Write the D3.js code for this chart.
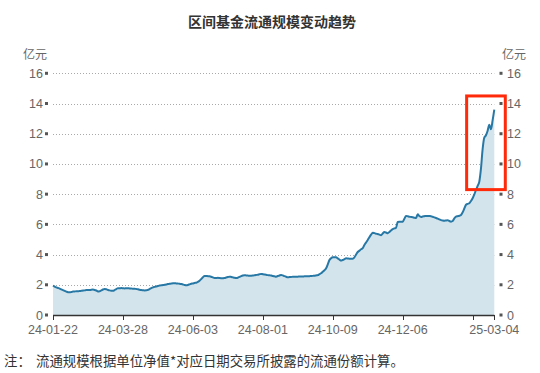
<!DOCTYPE html>
<html>
<head>
<meta charset="utf-8">
<script src="https://cdn.jsdelivr.net/npm/d3@7"></script>
<style>
  body { margin: 0; background: #fff; }
  svg { display: block; font-family: "Liberation Sans", Arial, "Noto Sans CJK SC", sans-serif; }
</style>
</head>
<body>
<svg width="540" height="373"></svg>
<script>
// 流通规模 (亿元), one value per trading day from 24-01-22 to 25-03-04
const scale = [
  1.94, 1.88, 1.83, 1.79, 1.75, 1.70, 1.65, 1.60, 1.55, 1.51,
  1.50, 1.52, 1.55, 1.56, 1.57, 1.57, 1.59, 1.60, 1.62, 1.63,
  1.65, 1.66, 1.65, 1.67, 1.68, 1.66, 1.62, 1.56, 1.57, 1.63,
  1.69, 1.72, 1.70, 1.66, 1.63, 1.61, 1.60, 1.65, 1.72, 1.77,
  1.77, 1.78, 1.77, 1.76, 1.77, 1.77, 1.76, 1.75, 1.74, 1.74,
  1.72, 1.70, 1.67, 1.65, 1.64, 1.63, 1.64, 1.66, 1.72, 1.78,
  1.83, 1.86, 1.89, 1.92, 1.95, 1.97, 1.98, 2.00, 2.02, 2.05,
  2.07, 2.08, 2.10, 2.10, 2.09, 2.08, 2.07, 2.05, 2.02, 1.99,
  1.97, 1.99, 2.03, 2.07, 2.09, 2.12, 2.14, 2.19, 2.27, 2.38,
  2.50, 2.58, 2.58, 2.57, 2.56, 2.53, 2.49, 2.45, 2.45, 2.46,
  2.45, 2.44, 2.43, 2.45, 2.48, 2.51, 2.54, 2.52, 2.49, 2.46,
  2.45, 2.47, 2.52, 2.57, 2.61, 2.63, 2.62, 2.61, 2.60, 2.60,
  2.61, 2.63, 2.65, 2.67, 2.70, 2.72, 2.70, 2.68, 2.66, 2.64,
  2.63, 2.61, 2.58, 2.56, 2.54, 2.58, 2.62, 2.65, 2.62, 2.57,
  2.53, 2.50, 2.51, 2.52, 2.53, 2.53, 2.54, 2.54, 2.55, 2.55,
  2.55, 2.56, 2.56, 2.56, 2.57, 2.58, 2.59, 2.60, 2.62, 2.64,
  2.70, 2.76, 2.86, 2.96, 3.09, 3.35, 3.64, 3.76, 3.82, 3.83,
  3.82, 3.75, 3.67, 3.60, 3.64, 3.70, 3.75, 3.74, 3.73, 3.73,
  3.73, 3.82, 4.00, 4.17, 4.26, 4.35, 4.42, 4.64, 4.80, 4.97,
  5.15, 5.32, 5.45, 5.42, 5.38, 5.36, 5.32, 5.28, 5.40, 5.50,
  5.46, 5.41, 5.50, 5.60, 5.68, 5.73, 5.78, 6.16, 6.18, 6.17,
  6.18, 6.37, 6.56, 6.54, 6.51, 6.49, 6.47, 6.44, 6.42, 6.67,
  6.55, 6.49, 6.52, 6.54, 6.56, 6.56, 6.55, 6.54, 6.50, 6.46,
  6.42, 6.38, 6.33, 6.28, 6.25, 6.24, 6.26, 6.27, 6.22, 6.18,
  6.22, 6.40, 6.51, 6.54, 6.57, 6.62, 6.80, 7.05, 7.30, 7.36,
  7.40, 7.55, 7.73, 7.98, 8.28, 8.55, 8.83, 9.70, 11.00, 11.74,
  11.90, 12.20, 12.60, 12.30, 12.90, 13.60
];

// x axis: tick positions (trading-day index) and their labels ('' = tick only)
const tickIndex = [0, 42, 84, 126, 168, 210, 252, 265];
const tickLabels = ['24-01-22', '24-03-28', '24-06-03', '24-08-01', '24-10-09', '24-12-06', '', '25-03-04'];
const yTicks = [0, 2, 4, 6, 8, 10, 12, 14, 16];

// highlighted zone (index range / value range)
const boxIndex = [249, 265];
const boxValue = [8.3, 14.5];

const svg = d3.select('svg');
const plotLeft = 53, plotRight = 494.3, plotTop = 73.3, plotBottom = 315;

const x = d3.scaleLinear().domain([0, scale.length - 1]).range([plotLeft, plotRight]);
const y = d3.scaleLinear().domain([0, 16]).range([plotBottom, plotTop]);

// title
svg.append('text')
  .attr('x', 272).attr('y', 27)
  .attr('text-anchor', 'middle')
  .attr('font-size', 14).attr('font-weight', 'bold')
  .attr('fill', '#333')
  .attr('font-family', '"Noto Sans CJK SC", sans-serif')
  .text('区间基金流通规模变动趋势');

// unit labels
svg.append('text').attr('x', 23).attr('y', 59).attr('font-size', 12).attr('fill', '#666')
  .attr('font-family', '"Noto Sans CJK SC", sans-serif').text('亿元');
svg.append('text').attr('x', 526).attr('y', 59).attr('font-size', 12).attr('fill', '#666')
  .attr('text-anchor', 'end')
  .attr('font-family', '"Noto Sans CJK SC", sans-serif').text('亿元');

// grid lines
svg.append('g').selectAll('line')
  .data(yTicks.filter(d => d > 0))
  .join('line')
  .attr('x1', plotLeft).attr('x2', plotRight)
  .attr('y1', d => Math.round(y(d)) + 0.5).attr('y2', d => Math.round(y(d)) + 0.5)
  .attr('stroke', '#aaa').attr('stroke-width', 1)
  .attr('stroke-dasharray', '1,2');

// y axes, both sides: small square marks + labels
function yAxis(markX, labelX, anchor) {
  let g = svg.append('g');
  g.selectAll('rect').data(yTicks).join('rect')
    .attr('x', markX - 1.5).attr('y', d => y(d) - 1.5)
    .attr('width', 3).attr('height', 3)
    .attr('fill', '#555');
  g.selectAll('text').data(yTicks).join('text')
    .attr('x', labelX).attr('y', d => y(d) + 4.5)
    .attr('text-anchor', anchor)
    .attr('font-size', 12.5).attr('fill', '#666')
    .text(d => d);
}
yAxis(46.5, 43, 'end');
yAxis(501, 507, 'start');

// area + line
const area = d3.area()
  .x((d, i) => x(i)).y0(y(0)).y1(d => y(d))
  .curve(d3.curveMonotoneX);
const line = d3.line()
  .x((d, i) => x(i)).y(d => y(d))
  .curve(d3.curveMonotoneX);

svg.append('path').datum(scale)
  .attr('d', area)
  .attr('fill', '#d3e4ec');
svg.append('path').datum(scale)
  .attr('d', line)
  .attr('fill', 'none')
  .attr('stroke', '#2878a6')
  .attr('stroke-width', 2)
  .attr('stroke-linejoin', 'round');

// x axis
let xg = svg.append('g');
xg.append('line')
  .attr('x1', plotLeft).attr('x2', plotRight)
  .attr('y1', plotBottom + 0.5).attr('y2', plotBottom + 0.5)
  .attr('stroke', '#333').attr('stroke-width', 1.5);
xg.selectAll('line.tick').data(tickIndex).join('line')
  .attr('class', 'tick')
  .attr('x1', d => Math.round(x(d)) + 0.5).attr('x2', d => Math.round(x(d)) + 0.5)
  .attr('y1', plotBottom).attr('y2', plotBottom + 5)
  .attr('stroke', '#333');
xg.selectAll('text').data(tickIndex).join('text')
  .attr('x', d => x(d)).attr('y', plotBottom + 19)
  .attr('text-anchor', 'middle')
  .attr('font-size', 12.5).attr('fill', '#666')
  .text((d, i) => tickLabels[i]);

// red highlight box
svg.append('rect')
  .attr('x', x(boxIndex[0]) - 1)
  .attr('y', y(boxValue[1]))
  .attr('width', x(boxIndex[1]) - x(boxIndex[0]) + 12)
  .attr('height', y(boxValue[0]) - y(boxValue[1]))
  .attr('fill', 'none')
  .attr('stroke', '#ff2a0a')
  .attr('stroke-width', 3);

// note
svg.append('text')
  .attr('x', 4).attr('y', 366)
  .attr('font-size', 13.4).attr('fill', '#333')
  .attr('font-family', '"Noto Sans CJK SC", sans-serif')
  .text('注：');
svg.append('text')
  .attr('x', 36).attr('y', 366)
  .attr('font-size', 13.4).attr('fill', '#333')
  .attr('font-family', '"Noto Sans CJK SC", sans-serif')
  .text('流通规模根据单位净值*对应日期交易所披露的流通份额计算。');
</script>
</body>
</html>
